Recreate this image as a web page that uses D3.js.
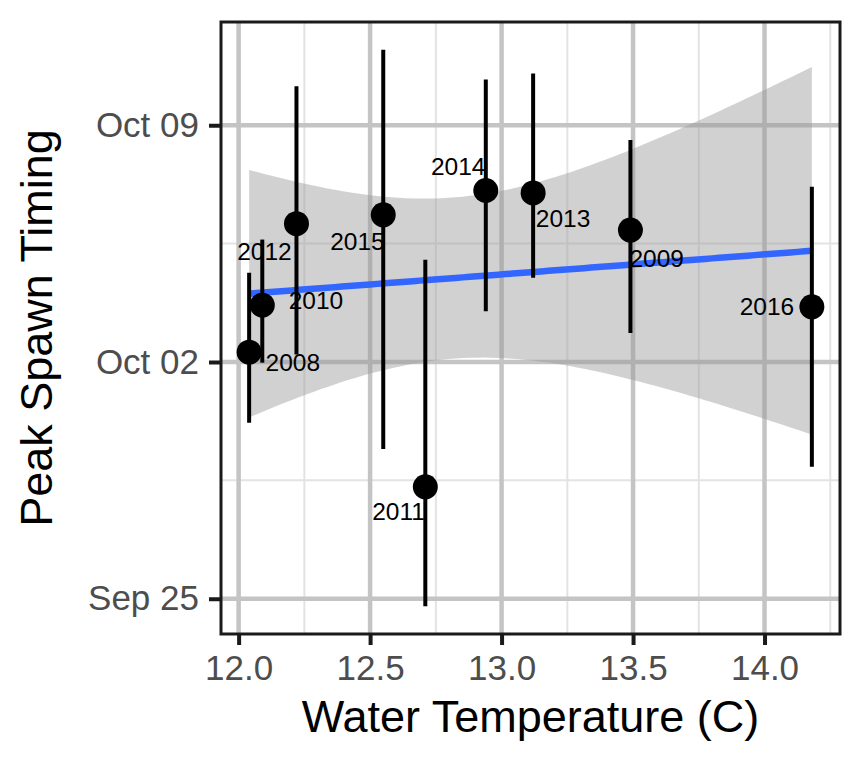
<!DOCTYPE html>
<html>
<head>
<meta charset="utf-8">
<script src="https://cdn.jsdelivr.net/npm/d3@7"></script>
<style>
  html, body { margin: 0; padding: 0; background: #fff; }
  svg { display: block; }
  text { font-family: "Liberation Sans", Arial, Helvetica, sans-serif; }
</style>
</head>
<body>
<svg id="chart" width="864" height="768"></svg>
<script>
// ---------------- data ----------------
const years      = [2008, 2009, 2010, 2011, 2012, 2013, 2014, 2015, 2016];
const waterTemp  = [12.04, 13.49, 12.09, 12.71, 12.22, 13.12, 12.94, 12.55, 14.18];
// peak spawn timing, in days after Oct 02 (00:00)
const peakDays   = [0.29, 3.90, 1.68, -3.69, 4.09, 5.00, 5.07, 4.35, 1.63];
const lowDays    = [-1.80, 0.86, -0.02, -7.22, 0.22, 2.49, 1.50, -2.57, -3.10];
const highDays   = [2.64, 6.56, 3.62, 3.02, 8.15, 8.53, 8.35, 9.23, 5.18];
// repelled label positions (temperature, days after Oct 02)
const labelTemp  = [12.206, 13.59, 12.294, 12.608, 12.098, 13.234, 12.835, 12.452, 14.009];
const labelDays  = [-0.02, 3.06, 1.83, -4.43, 3.28, 4.23, 5.78, 3.57, 1.63];
// axes
const xTicks      = [12.0, 12.5, 13.0, 13.5, 14.0];
const xMinorTicks = [12.25, 12.75, 13.25, 13.75, 14.25];
const yTickDates  = ["2000-09-25", "2000-10-02", "2000-10-09"];
const yTickLabels = ["Sep 25", "Oct 02", "Oct 09"];
const yMinorDates = ["2000-09-28T12:00Z", "2000-10-05T12:00Z"];
const xTitle = "Water Temperature (C)";
const yTitle = "Peak Spawn Timing";
const baseDate = "2000-10-02";

// ---------------- helpers ----------------
const base = new Date(baseDate + "T00:00:00Z");
const toDate = d => new Date(base.getTime() + d * 864e5);
const parseDay = s => new Date(s.length === 10 ? s + "T00:00:00Z" : s);

const data = years.map((y, i) => ({
  year: y, temp: waterTemp[i], peak: peakDays[i], lo: lowDays[i], hi: highDays[i],
  lx: labelTemp[i], ly: labelDays[i]
}));

// ---------------- linear model (geom_smooth, method = lm) ----------------
const n = data.length;
const mx = d3.mean(data, d => d.temp), my = d3.mean(data, d => d.peak);
const sxx = d3.sum(data, d => (d.temp - mx) ** 2);
const sxy = d3.sum(data, d => (d.temp - mx) * (d.peak - my));
const slope = sxy / sxx, intercept = my - slope * mx;
const sse = d3.sum(data, d => (d.peak - (intercept + slope * d.temp)) ** 2);
const sigma = Math.sqrt(sse / (n - 2));
const tCrit = 2.364624; // qt(0.975, 7)
const [x0, x1] = d3.extent(data, d => d.temp);
const fit = d3.range(80).map(i => {
  const x = x0 + (x1 - x0) * i / 79;
  const yhat = intercept + slope * x;
  const se = sigma * Math.sqrt(1 / n + (x - mx) ** 2 / sxx);
  return { x, y: yhat, lo: yhat - tCrit * se, hi: yhat + tCrit * se };
});

// ---------------- layout ----------------
const W = 864, H = 768;
const panel = { left: 221, top: 22, right: 840, bottom: 634 };

const xr = [x0, x1], xpad = (xr[1] - xr[0]) * 0.05;
const x = d3.scaleLinear().domain([xr[0] - xpad, xr[1] + xpad]).range([panel.left, panel.right]);

const yLo = Math.min(d3.min(data, d => d.lo), d3.min(fit, d => d.lo));
const yHi = Math.max(d3.max(data, d => d.hi), d3.max(fit, d => d.hi));
const ypad = (yHi - yLo) * 0.05;
const y = d3.scaleUtc().domain([toDate(yLo - ypad), toDate(yHi + ypad)]).range([panel.bottom, panel.top]);

const svg = d3.select("#chart");
svg.append("rect").attr("width", W).attr("height", H).attr("fill", "#fff");

// grid
const grid = svg.append("g");
grid.selectAll(".xminor").data(xMinorTicks.filter(v => v >= x.domain()[0] && v <= x.domain()[1]))
  .join("line").attr("x1", d => x(d)).attr("x2", d => x(d))
  .attr("y1", panel.top).attr("y2", panel.bottom)
  .attr("stroke", "#E3E3E3").attr("stroke-width", 2);
grid.selectAll(".yminor").data(yMinorDates.map(parseDay))
  .join("line").attr("y1", d => y(d)).attr("y2", d => y(d))
  .attr("x1", panel.left).attr("x2", panel.right)
  .attr("stroke", "#E3E3E3").attr("stroke-width", 2);
grid.selectAll(".xmajor").data(xTicks)
  .join("line").attr("x1", d => x(d)).attr("x2", d => x(d))
  .attr("y1", panel.top).attr("y2", panel.bottom)
  .attr("stroke", "#C4C4C4").attr("stroke-width", 4.5);
grid.selectAll(".ymajor").data(yTickDates.map(parseDay))
  .join("line").attr("y1", d => y(d)).attr("y2", d => y(d))
  .attr("x1", panel.left).attr("x2", panel.right)
  .attr("stroke", "#C4C4C4").attr("stroke-width", 4.5);

// ribbon + fit line
svg.append("path").datum(fit)
  .attr("d", d3.area().x(d => x(d.x)).y0(d => y(toDate(d.lo))).y1(d => y(toDate(d.hi))))
  .attr("fill", "#999999").attr("fill-opacity", 0.45);
svg.append("path").datum(fit)
  .attr("d", d3.line().x(d => x(d.x)).y(d => y(toDate(d.y))))
  .attr("fill", "none").attr("stroke", "#3366FF").attr("stroke-width", 6.5);

// error bars
svg.append("g").selectAll("line").data(data).join("line")
  .attr("x1", d => x(d.temp)).attr("x2", d => x(d.temp))
  .attr("y1", d => y(toDate(d.lo))).attr("y2", d => y(toDate(d.hi)))
  .attr("stroke", "#000").attr("stroke-width", 4);

// points
svg.append("g").selectAll("circle").data(data).join("circle")
  .attr("cx", d => x(d.temp)).attr("cy", d => y(toDate(d.peak)))
  .attr("r", 12.5).attr("fill", "#000");

// labels
svg.append("g").selectAll("text").data(data).join("text")
  .attr("x", d => x(d.lx)).attr("y", d => y(toDate(d.ly)))
  .attr("text-anchor", "middle").attr("dominant-baseline", "central")
  .attr("font-size", 24.5).attr("fill", "#000")
  .text(d => d.year);

// panel border
svg.append("rect")
  .attr("x", panel.left).attr("y", panel.top)
  .attr("width", panel.right - panel.left).attr("height", panel.bottom - panel.top)
  .attr("fill", "none").attr("stroke", "#1a1a1a").attr("stroke-width", 3);

// axes
const xAxis = d3.axisBottom(x).tickValues(xTicks).tickFormat(d3.format(".1f"))
  .tickSize(11).tickPadding(10);
const gx = svg.append("g").attr("transform", `translate(0,${panel.bottom})`).call(xAxis);
const yAxis = d3.axisLeft(y).tickValues(yTickDates.map(parseDay))
  .tickFormat((d, i) => yTickLabels[i]).tickSize(12).tickPadding(10);
const gy = svg.append("g").attr("transform", `translate(${panel.left},0)`).call(yAxis);
[gx, gy].forEach(g => {
  g.select(".domain").remove();
  g.selectAll(".tick line").attr("stroke", "#1a1a1a").attr("stroke-width", 4);
  g.selectAll(".tick text").attr("fill", "#4D4D4D").attr("font-size", 35)
    .attr("font-family", '"Liberation Sans", Arial, Helvetica, sans-serif');
});

// titles
svg.append("text").attr("x", (panel.left + panel.right) / 2).attr("y", 732)
  .attr("text-anchor", "middle").attr("font-size", 45).attr("fill", "#000").text(xTitle);
svg.append("text")
  .attr("transform", `translate(52,${(panel.top + panel.bottom) / 2}) rotate(-90)`)
  .attr("text-anchor", "middle").attr("font-size", 45).attr("fill", "#000").text(yTitle);
</script>
</body>
</html>
